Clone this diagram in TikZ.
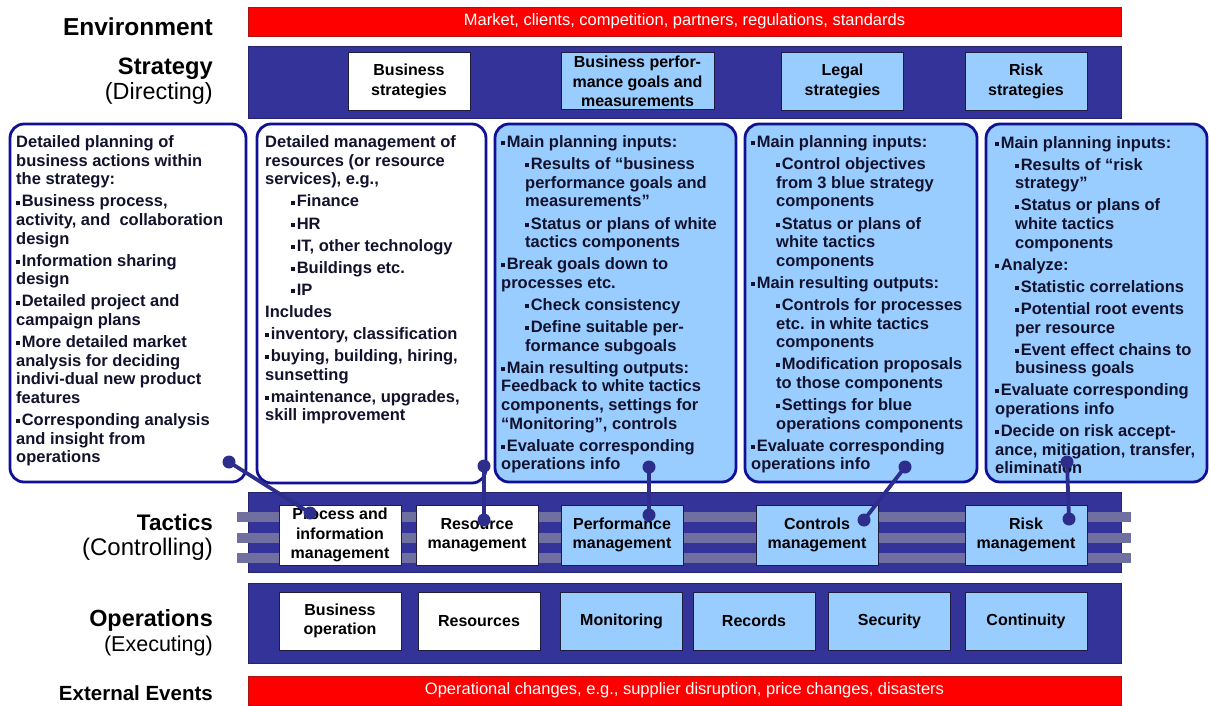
\documentclass[tikz,border=0pt]{standalone}
\usepackage{fontspec}
\setmainfont{Liberation Sans}
\definecolor{bandblue}{RGB}{51,51,153}
\definecolor{bandedge}{RGB}{35,35,110}
\definecolor{stripegrey}{RGB}{112,112,160}
\definecolor{paleblue}{RGB}{153,204,255}
\definecolor{compedge}{RGB}{30,30,60}
\definecolor{framedark}{RGB}{16,16,150}
\definecolor{wirecol}{RGB}{45,45,140}
\definecolor{alertred}{RGB}{255,0,0}
\definecolor{rededge}{RGB}{170,20,20}
\definecolor{calltextcol}{RGB}{18,18,45}
% small square bullet and sub-item indent
\newcommand{\itemsq}{\rule[2.4pt]{4pt}{4pt}\hspace{1.6pt}}
\newcommand{\subin}[1]{\hspace*{#1pt}}
\begin{document}
\begin{tikzpicture}[x=1pt,y=-1pt,
  band/.style={fill=bandblue, draw=bandedge, line width=0.8pt},
  redbar/.style={fill=alertred, draw=rededge, line width=0.8pt, inner sep=0pt,
    text=white, font=\fontsize{16.5}{19}\selectfont},
  comp/.style={draw=compedge, line width=1pt, minimum width=122pt, minimum height=58pt,
    inner sep=1pt, align=center, text=black, font=\fontsize{16}{19.5}\selectfont\bfseries},
  wcomp/.style={comp, fill=white},
  bcomp/.style={comp, fill=paleblue},
  callout/.style={draw=framedark, line width=2.8pt, rounded corners=14pt, inner sep=0pt},
  calltext/.style={anchor=north west, inner sep=0pt, align=left, text=calltextcol,
    font=\fontsize{16.5}{18.6}\selectfont\bfseries},
  lab/.style={anchor=east, inner sep=0pt},
  dot/.style={circle, fill=wirecol, draw=none, minimum size=13pt, inner sep=0pt},
  wire/.style={draw=wirecol, line width=3.8pt}]
\useasboundingbox (0,0) rectangle (1210,706);

% ---------- row labels ----------
\node[lab, font=\fontsize{24.5}{28}\selectfont\bfseries] (lenv) at (213,27) {Environment};
\node[lab, font=\fontsize{23.7}{28}\selectfont\bfseries] (lstr) at (213,69) {Strategy};
\node[lab, font=\fontsize{23.4}{28}\selectfont] (lstr2) at (213,93) {(Directing)};
\node[lab, font=\fontsize{22.5}{28}\selectfont\bfseries] (ltac) at (213,522) {Tactics};
\node[lab, font=\fontsize{24}{28}\selectfont] (ltac2) at (213,549) {(Controlling)};
\node[lab, font=\fontsize{23.4}{28}\selectfont\bfseries] (lops) at (213,620) {Operations};
\node[lab, font=\fontsize{21.5}{28}\selectfont] (lops2) at (213,646) {(Executing)};
\node[lab, font=\fontsize{20.5}{28}\selectfont\bfseries] (lext) at (213,693) {External Events};

% ---------- environment ----------
\node[redbar, minimum width=873pt, minimum height=29pt] (env) at (684.5,21.5)
  {Market, clients, competition, partners, regulations, standards};

% ---------- strategy ----------
\path[band] (248,46) rectangle (1121,118);
\node[wcomp] (bstr) at (409,81.5) {Business\\strategies};
\node[bcomp, minimum width=153pt, minimum height=57pt] (bperf) at (637.5,81.5)
  {Business perfor-\\mance goals and\\measurements};
\node[bcomp] (lstrat) at (842.5,81.5) {Legal\\strategies};
\node[bcomp] (rstrat) at (1026,81.5) {Risk\\strategies};

% ---------- tactics ----------
\path[band] (248,492) rectangle (1121,572);
\foreach \yy in {512,532.5,553}
  \fill[stripegrey] (237,\yy) rectangle (1131,\yy+10);
\node[wcomp, minimum height=60pt] (tproc) at (340,535) {Process and\\information\\management};
\node[wcomp, minimum height=60pt] (tres) at (477,535) {Resource\\management};
\node[bcomp, minimum height=60pt] (tperf) at (622,535) {Performance\\management};
\node[bcomp, minimum height=60pt] (tctrl) at (817,535) {Controls\\management};
\node[bcomp, minimum height=60pt] (trisk) at (1026,535) {Risk\\management};

% ---------- operations ----------
\path[band] (248,583) rectangle (1121,663);
\node[wcomp] (obus) at (340,621) {Business\\operation};
\node[wcomp] (ores) at (479,621) {Resources};
\node[bcomp] (omon) at (621.5,621) {Monitoring};
\node[bcomp] (orec) at (754,621) {Records};
\node[bcomp] (osec) at (889.5,621) {Security};
\node[bcomp] (ocon) at (1026,621) {Continuity};

% ---------- external events ----------
\node[redbar, minimum width=873pt, minimum height=29pt] (ext) at (684.5,690.5)
  {Operational changes, e.g., supplier disruption, price changes, disasters};

% ---------- callouts ----------
\node[callout, fill=white, minimum width=236pt, minimum height=358pt] (c1) at (128,303) {};
\node[callout, fill=white, minimum width=229pt, minimum height=359pt] (c2) at (371.5,303.5) {};
\node[callout, fill=paleblue, minimum width=241pt, minimum height=358pt] (c3) at (615.5,303) {};
\node[callout, fill=paleblue, minimum width=232pt, minimum height=358pt] (c4) at (861,303) {};
\node[callout, fill=paleblue, minimum width=221pt, minimum height=358pt] (c5) at (1096.5,303) {};

\node[calltext] (c1t) at (16,135.5) {Detailed planning of\\
business actions within\\
the strategy:\\[3.5pt]
\itemsq Business process,\\
activity, and~ collaboration\\
design\\[3.5pt]
\itemsq Information sharing\\
design\\[3.5pt]
\itemsq Detailed project and\\
campaign plans\\[3.5pt]
\itemsq More detailed market\\
analysis for deciding\\
indivi-dual new product\\
features\\[3.5pt]
\itemsq Corresponding analysis\\
and insight from\\
operations};

\node[calltext] (c2t) at (265,135.5) {Detailed management of\\
resources (or resource\\
services), e.g.,\\[3.5pt]
\subin{26}\itemsq Finance\\[3.5pt]
\subin{26}\itemsq HR\\[3.5pt]
\subin{26}\itemsq IT, other technology\\[3.5pt]
\subin{26}\itemsq Buildings etc.\\[3.5pt]
\subin{26}\itemsq IP\\[3.5pt]
Includes\\[3.5pt]
\itemsq inventory, classification\\[3.5pt]
\itemsq buying, building, hiring,\\
sunsetting\\[3.5pt]
\itemsq maintenance, upgrades,\\
skill improvement};

\node[calltext] (c3t) at (501,135.5) {\itemsq Main planning inputs:\\[3.5pt]
\subin{24}\itemsq Results of “business\\
\subin{24}performance goals and\\
\subin{24}measurements”\\[3.5pt]
\subin{24}\itemsq Status or plans of white\\
\subin{24}tactics components\\[3.5pt]
\itemsq Break goals down to\\
processes etc.\\[3.5pt]
\subin{24}\itemsq Check consistency\\[3.5pt]
\subin{24}\itemsq Define suitable per-\\
\subin{24}formance subgoals\\[3.5pt]
\itemsq Main resulting outputs:\\
Feedback to white tactics\\
components, settings for\\
“Monitoring”, controls\\[3.5pt]
\itemsq Evaluate corresponding\\
operations info};

\node[calltext] (c4t) at (751,135.5) {\itemsq Main planning inputs:\\[3.5pt]
\subin{25}\itemsq Control objectives\\
\subin{25}from 3 blue strategy\\
\subin{25}components\\[3.5pt]
\subin{25}\itemsq Status or plans of\\
\subin{25}white tactics\\
\subin{25}components\\[3.5pt]
\itemsq Main resulting outputs:\\[3.5pt]
\subin{25}\itemsq Controls for processes\\
\subin{25}etc. in white tactics\\
\subin{25}components\\[3.5pt]
\subin{25}\itemsq Modification proposals\\
\subin{25}to those components\\[3.5pt]
\subin{25}\itemsq Settings for blue\\
\subin{25}operations components\\[3.5pt]
\itemsq Evaluate corresponding\\
operations info};

\node[calltext] (c5t) at (995,136) {\itemsq Main planning inputs:\\[3.5pt]
\subin{20}\itemsq Results of “risk\\
\subin{20}strategy”\\[3.5pt]
\subin{20}\itemsq Status or plans of\\
\subin{20}white tactics\\
\subin{20}components\\[3.5pt]
\itemsq Analyze:\\[3.5pt]
\subin{20}\itemsq Statistic correlations\\[3.5pt]
\subin{20}\itemsq Potential root events\\
\subin{20}per resource\\[3.5pt]
\subin{20}\itemsq Event effect chains to\\
\subin{20}business goals\\[3.5pt]
\itemsq Evaluate corresponding\\
operations info\\[3.5pt]
\itemsq Decide on risk accept-\\
ance, mitigation, transfer,\\
elimination};

% ---------- connectors between callouts and tactics components ----------
\node[dot] (d1a) at (229,462) {};
\node[dot] (d1b) at (310,513) {};
\node[dot] (d2a) at (484,466) {};
\node[dot] (d2b) at (484,520) {};
\node[dot] (d3a) at (649,467) {};
\node[dot] (d3b) at (649,515) {};
\node[dot] (d4a) at (905,467) {};
\node[dot] (d4b) at (864,520) {};
\node[dot] (d5a) at (1067,462) {};
\node[dot] (d5b) at (1069,519) {};
\draw[wire] (d1a.center) -- (d1b.center);
\draw[wire] (d2a.center) -- (d2b.center);
\draw[wire] (d3a.center) -- (d3b.center);
\draw[wire] (d4a.center) -- (d4b.center);
\draw[wire] (d5a.center) -- (d5b.center);
\end{tikzpicture}
\end{document}
